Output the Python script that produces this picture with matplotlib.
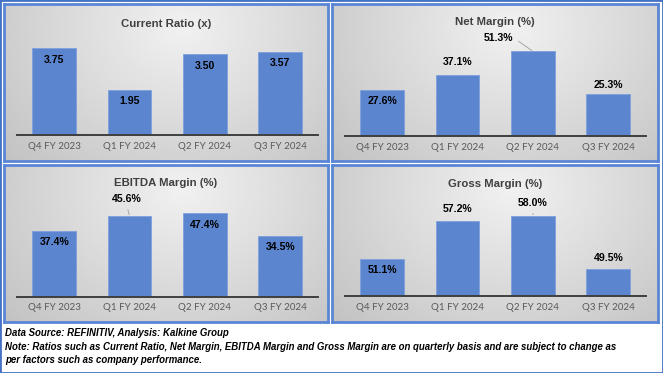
import numpy as np
import matplotlib.pyplot as plt

plt.rcParams['font.family'] = ['Lato', 'DejaVu Sans']

# data
quarters = ['Q4 FY 2023', 'Q1 FY 2024', 'Q2 FY 2024', 'Q3 FY 2024']
current_ratio = [3.75, 1.95, 3.50, 3.57]
net_margin = [27.6, 37.1, 51.3, 25.3]
ebitda_margin = [37.4, 45.6, 47.4, 34.5]
gross_margin = [51.1, 57.2, 58.0, 49.5]

titles = ['Current Ratio (x)', 'Net Margin (%)', 'EBITDA Margin (%)', 'Gross Margin (%)']
note1 = 'Data Source: REFINITIV, Analysis: Kalkine Group'
note2 = ('Note: Ratios such as Current Ratio, Net Margin, EBITDA Margin and Gross Margin are on quarterly basis '
         'and are subject to change as')
note3 = 'per factors such as company performance.'

W, H = 663, 373
BLUE = '#4472C4'
BAR = '#5B85CF'
BOLD_FONT = ['Liberation Sans', 'DejaVu Sans']


def box(x, y, w, h):
    # pixel box (top-left origin) -> figure fraction
    return [x / W, 1 - (y + h) / H, w / W, h / H]


fig = plt.figure(figsize=(W / 100, H / 100), dpi=100)
fig.patch.set_facecolor('white')

# outer frame
frame = fig.add_axes([0, 0, 1, 1])
frame.set_xticks([])
frame.set_yticks([])
frame.patch.set_alpha(0)
for s in frame.spines.values():
    s.set_color(BLUE)
    s.set_linewidth(2)

# gradient for panel backgrounds
gx, gy = np.meshgrid(np.linspace(0, 1, 200), np.linspace(0, 1, 100))
r = np.sqrt(((gx - 0.55) / 0.8) ** 2 + ((gy - 0.15) / 1.4) ** 2)
grad = np.clip(0.945 - 0.2 * r, 0.76, 0.945)

panels = [
    # panel box, axes box (baseline at bottom), ylim
    ((4, 4, 324, 157), (16.5, 30, 301.5, 105), (0, 105 / 23.2)),
    ((332, 4, 326, 157), (344.5, 30, 301.5, 106), (0, 106 / 1.65)),
    ((4, 165, 324, 157), (16.5, 190.5, 301.5, 106), (0, 106 / 1.76)),
    ((332, 165, 326, 157), (344.5, 190, 301.5, 106), (45.1, 45.1 + 106 / 6.2)),
]
series = [current_ratio, net_margin, ebitda_margin, gross_margin]
fmts = ['{:.2f}', '{:.1f}%', '{:.1f}%', '{:.1f}%']
# label offsets in pixels from the bar top
offsets = [
    [(0, -12), (0, -11), (0, -12), (0, -11)],
    [(0, -11), (0, 12.5), (-34, 13.5), (0, 9.5)],
    [(0, -11.5), (-3, 17), (0, -11.5), (0, -11.5)],
    [(0, -11), (0, 12), (0, 13), (0, 10.5)],
]
leaders = {(1, 2), (2, 1), (3, 2)}
title_y = [24, 22, 183, 184]

for i, (pbox, abox, ylim) in enumerate(panels):
    bg = fig.add_axes(box(*pbox))
    bg.imshow(grad, cmap='gray', vmin=0, vmax=1, aspect='auto',
              extent=[0, 1, 1, 0], interpolation='bilinear')
    bg.set_xticks([])
    bg.set_yticks([])
    for s in bg.spines.values():
        s.set_color('#5b86d6')
        s.set_linewidth(2)

    ax = fig.add_axes(box(*abox))
    ax.patch.set_alpha(0)
    vals = series[i]
    x = np.arange(len(quarters))
    ax.bar(x, vals, width=0.58, color=BAR, edgecolor='#7da0dc', linewidth=0.6)
    ax.set_xlim(-0.5, len(quarters) - 0.5)
    ax.set_ylim(*ylim)
    for s in ['top', 'left', 'right']:
        ax.spines[s].set_visible(False)
    ax.spines['bottom'].set_color('#3f3f3f')
    ax.spines['bottom'].set_linewidth(1.4)
    ax.spines['bottom'].set_zorder(5)
    ax.set_yticks([])
    ax.set_xticks(x)
    ax.set_xticklabels(quarters, fontsize=7, color='#595959')
    ax.tick_params(axis='x', length=0, pad=5)

    for j, v in enumerate(vals):
        dx, dy = offsets[i][j]
        kw = {}
        if (i, j) in leaders:
            kw['arrowprops'] = dict(arrowstyle='-', color='#a6a6a6', lw=0.7,
                                    shrinkA=2, shrinkB=1,
                                    relpos=(1, 0.5) if dx < -10 else (0.5, 0))
        ax.annotate(fmts[i].format(v), xy=(j, v), xytext=(dx, dy),
                    textcoords='offset pixels', ha='center', va='center',
                    fontsize=7.6, fontweight='bold', color='black',
                    family=BOLD_FONT, annotation_clip=False, **kw)

    cx = pbox[0] + pbox[2] / 2
    fig.text(cx / W, 1 - title_y[i] / H, titles[i], ha='center', va='center',
             fontsize=8.2, fontweight='bold', color='#404040', family=BOLD_FONT)

for t, yy in [(note1, 333), (note2, 346.5), (note3, 360)]:
    fig.text(5 / W, 1 - yy / H, t, ha='left', va='center', fontsize=6.9,
             fontweight='bold', fontstyle='italic', color='black',
             family=BOLD_FONT)

fig.savefig('out.png', dpi=100)
